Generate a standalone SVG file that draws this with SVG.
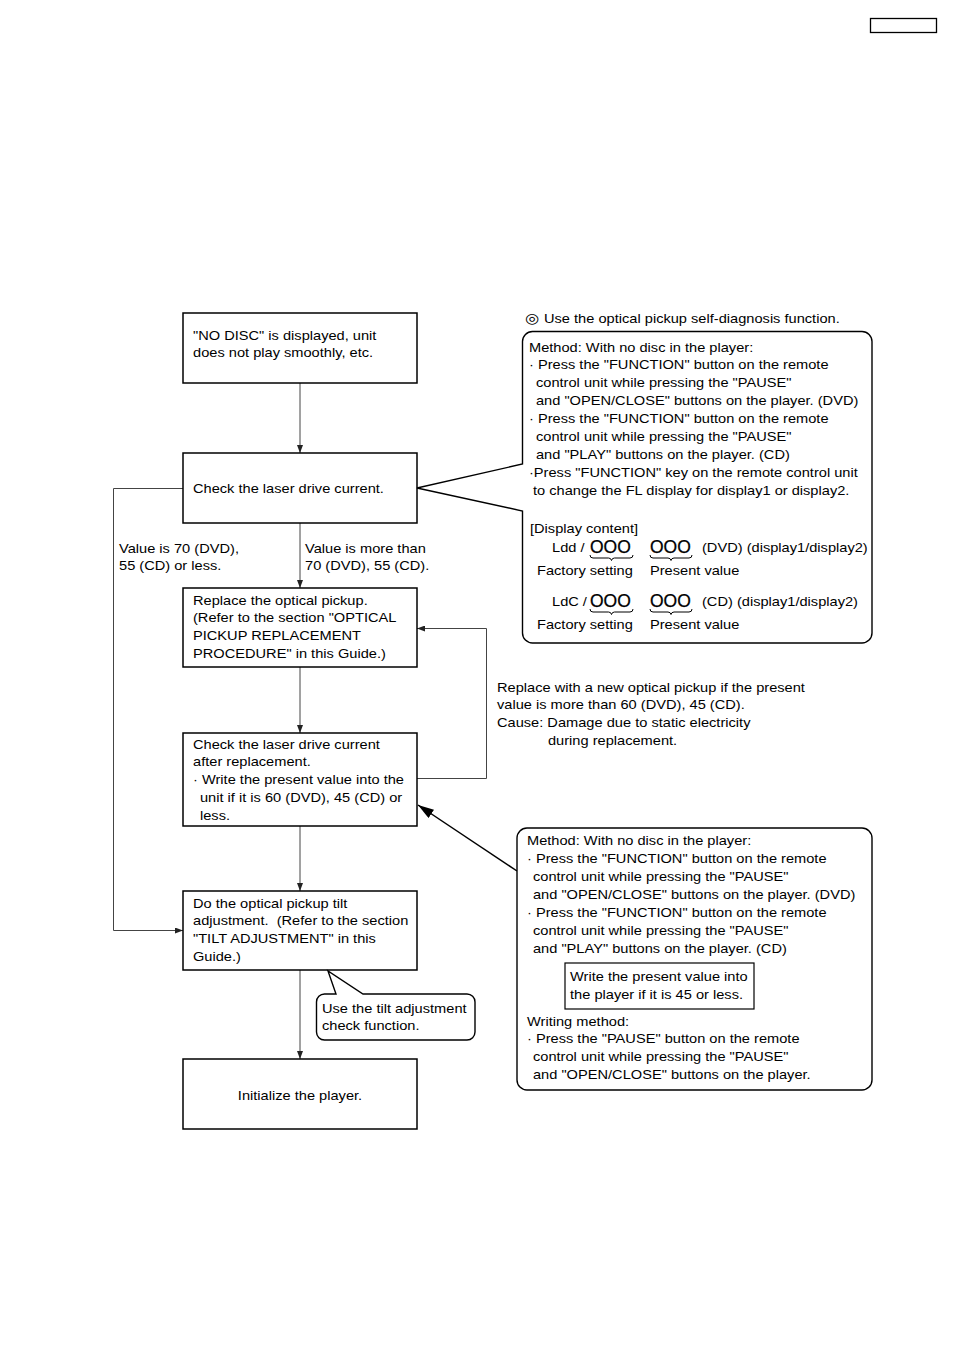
<svg xmlns="http://www.w3.org/2000/svg" width="954" height="1350" viewBox="0 0 954 1350">
<style>
.t{font-family:"Liberation Sans",Arial,Helvetica,sans-serif;font-size:13px;fill:#000}
.box{fill:#fff;stroke:#000;stroke-width:1.5}
.co{fill:#fff;stroke:#000;stroke-width:1.4}
.ln{fill:none;stroke:#444;stroke-width:1}
.o{font-family:"Liberation Sans",Arial,sans-serif;font-size:17.5px;fill:#000;stroke:#000;stroke-width:0.25}
.br{fill:none;stroke:#000;stroke-width:1}
.sym{font-family:"DejaVu Sans",sans-serif;font-size:14.5px;font-weight:bold}
</style>
<defs>
<marker id="a" viewBox="0 0 8 6" refX="8" refY="3" markerWidth="8" markerHeight="6" markerUnits="userSpaceOnUse" orient="auto"><path d="M0,0 L8,3 L0,6 Z" fill="#222"/></marker>
<marker id="b" viewBox="0 0 16 10" refX="16" refY="5" markerWidth="16" markerHeight="10" markerUnits="userSpaceOnUse" orient="auto"><path d="M0,0 L16,5 L0,10 Z" fill="#000"/></marker>
</defs>
<rect width="954" height="1350" fill="#fff"/>
<rect id="pageref" x="870.5" y="18.5" width="66" height="14" fill="none" stroke="#000" stroke-width="1.3"/>

<g id="connectors">
<path class="ln" d="M300,383 V453" marker-end="url(#a)"/>
<path class="ln" d="M300,523 V588" marker-end="url(#a)"/>
<path class="ln" d="M300,667 V733" marker-end="url(#a)"/>
<path class="ln" d="M300,826 V891" marker-end="url(#a)"/>
<path class="ln" d="M300,970 V1059" marker-end="url(#a)"/>
<path class="ln" d="M183,488.5 H113.5 V930.5 H183" marker-end="url(#a)"/>
<path class="ln" d="M417,778.5 H486.5 V628.5 H417" marker-end="url(#a)"/>
<path d="M517,871 L418,805" fill="none" stroke="#000" stroke-width="1.5" marker-end="url(#b)"/>
<text class="t" transform="translate(119,552.5) scale(1.125,1)"><tspan x="0" y="0">Value is 70 (DVD),</tspan><tspan x="0" y="18">55 (CD) or less.</tspan></text>
<text class="t" transform="translate(305,552.5) scale(1.125,1)"><tspan x="0" y="0">Value is more than</tspan><tspan x="0" y="18">70 (DVD), 55 (CD).</tspan></text>
</g>

<g id="n1">
<rect class="box" x="183" y="313" width="234" height="70"/>
<text class="t" transform="translate(193,339.5) scale(1.125,1)"><tspan x="0" y="0">"NO DISC" is displayed, unit</tspan><tspan x="0" y="18">does not play smoothly, etc.</tspan></text>
</g>

<g id="n2">
<rect class="box" x="183" y="453" width="234" height="70"/>
<text class="t" transform="translate(193,492.5) scale(1.125,1)">Check the laser drive current.</text>
</g>

<g id="n3">
<rect class="box" x="183" y="588" width="234" height="79"/>
<text class="t" transform="translate(193,604.5) scale(1.125,1)"><tspan x="0" y="0">Replace the optical pickup.</tspan><tspan x="0" y="18">(Refer to the section "OPTICAL</tspan><tspan x="0" y="36">PICKUP REPLACEMENT</tspan><tspan x="0" y="54">PROCEDURE" in this Guide.)</tspan></text>
</g>

<g id="n4">
<rect class="box" x="183" y="733" width="234" height="93"/>
<text class="t" transform="translate(193,748.5) scale(1.125,1)"><tspan x="0" y="0">Check the laser drive current</tspan><tspan x="0" y="18">after replacement.</tspan><tspan x="0" y="36">· Write the present value into the</tspan><tspan x="6.2" y="54">unit if it is 60 (DVD), 45 (CD) or</tspan><tspan x="6.2" y="72">less.</tspan></text>
</g>

<g id="n5">
<rect class="box" x="183" y="891" width="234" height="79"/>
<text class="t" transform="translate(193,907.5) scale(1.125,1)"><tspan x="0" y="0">Do the optical pickup tilt</tspan><tspan x="0" y="18">adjustment.&#160; (Refer to the section</tspan><tspan x="0" y="36">"TILT ADJUSTMENT" in this</tspan><tspan x="0" y="54">Guide.)</tspan></text>
</g>

<g id="n6">
<rect class="box" x="183" y="1059" width="234" height="70"/>
<text class="t" text-anchor="middle" transform="translate(300,1099.5) scale(1.125,1)">Initialize the player.</text>
</g>

<g id="note-replace">
<text class="t" transform="translate(497,691.5) scale(1.125,1)"><tspan x="0" y="0">Replace with a new optical pickup if the present</tspan><tspan x="0" y="18">value is more than 60 (DVD), 45 (CD).</tspan><tspan x="0" y="36">Cause: Damage due to static electricity</tspan><tspan x="45.3" y="54">during replacement.</tspan></text>
</g>

<g id="callout-tilt">
<path class="co" d="M324.5,994 H336 L328,971 L363,994 H467 A8,8 0 0 1 475,1002 V1032 A8,8 0 0 1 467,1040 H324.5 A8,8 0 0 1 316.5,1032 V1002 A8,8 0 0 1 324.5,994 Z"/>
<text class="t" transform="translate(322,1012.5) scale(1.125,1)"><tspan x="0" y="0">Use the tilt adjustment</tspan><tspan x="0" y="18">check function.</tspan></text>
</g>

<g id="callout-diagnosis">
<text class="t" transform="translate(525,323) scale(1.125,1)"><tspan class="sym" x="0" y="0">◎</tspan><tspan x="16.9" y="0">Use the optical pickup self-diagnosis function.</tspan></text>
<path class="co" d="M532.5,331.5 H862 A10,10 0 0 1 872,341.5 V633 A10,10 0 0 1 862,643 H532.5 A10,10 0 0 1 522.5,633 V511 L417,488 L522.5,464 V341.5 A10,10 0 0 1 532.5,331.5 Z"/>
<text class="t" transform="translate(529,351.5) scale(1.125,1)"><tspan x="0" y="0">Method: With no disc in the player:</tspan><tspan x="0" y="18">· Press the "FUNCTION" button on the remote</tspan><tspan x="6.2" y="36">control unit while pressing the "PAUSE"</tspan><tspan x="6.2" y="54">and "OPEN/CLOSE" buttons on the player. (DVD)</tspan><tspan x="0" y="72">· Press the "FUNCTION" button on the remote</tspan><tspan x="6.2" y="90">control unit while pressing the "PAUSE"</tspan><tspan x="6.2" y="108">and "PLAY" buttons on the player. (CD)</tspan><tspan x="0" y="126">·Press "FUNCTION" key on the remote control unit</tspan><tspan x="3.6" y="144">to change the FL display for display1 or display2.</tspan></text>
<text class="t" transform="translate(530,532.5) scale(1.125,1)">[Display content]</text>
<text class="t" transform="translate(552,551.5) scale(1.125,1)">Ldd /</text>
<text class="o" x="590" y="553">OOO</text>
<path class="br" d="M590,555 q0,3 3,3 H608.5 q2.5,0 3,2.5 q0.5,-2.5 3,-2.5 H630 q3,0 3,-3"/>
<text class="o" x="650" y="553">OOO</text>
<path class="br" d="M650,555 q0,3 3,3 H668 q2.5,0 3,2.5 q0.5,-2.5 3,-2.5 H689 q3,0 3,-3"/>
<text class="t" transform="translate(702,551.5) scale(1.125,1)">(DVD) (display1/display2)</text>
<text class="t" transform="translate(537,574.5) scale(1.125,1)">Factory setting</text>
<text class="t" transform="translate(650,574.5) scale(1.125,1)">Present value</text>
<text class="t" transform="translate(552,605.5) scale(1.125,1)">LdC /</text>
<text class="o" x="590" y="607">OOO</text>
<path class="br" d="M590,609 q0,3 3,3 H608.5 q2.5,0 3,2.5 q0.5,-2.5 3,-2.5 H630 q3,0 3,-3"/>
<text class="o" x="650" y="607">OOO</text>
<path class="br" d="M650,609 q0,3 3,3 H668 q2.5,0 3,2.5 q0.5,-2.5 3,-2.5 H689 q3,0 3,-3"/>
<text class="t" transform="translate(702,605.5) scale(1.125,1)">(CD) (display1/display2)</text>
<text class="t" transform="translate(537,628.5) scale(1.125,1)">Factory setting</text>
<text class="t" transform="translate(650,628.5) scale(1.125,1)">Present value</text>
</g>

<g id="callout-write">
<rect class="co" x="517" y="828" width="355" height="262" rx="10" ry="10"/>
<text class="t" transform="translate(527,845) scale(1.125,1)"><tspan x="0" y="0">Method: With no disc in the player:</tspan><tspan x="0" y="18">· Press the "FUNCTION" button on the remote</tspan><tspan x="5.3" y="36">control unit while pressing the "PAUSE"</tspan><tspan x="5.3" y="54">and "OPEN/CLOSE" buttons on the player. (DVD)</tspan><tspan x="0" y="72">· Press the "FUNCTION" button on the remote</tspan><tspan x="5.3" y="90">control unit while pressing the "PAUSE"</tspan><tspan x="5.3" y="108">and "PLAY" buttons on the player. (CD)</tspan></text>
<rect x="565" y="963" width="189" height="46" fill="#fff" stroke="#000" stroke-width="1.2"/>
<text class="t" transform="translate(570,981) scale(1.125,1)"><tspan x="0" y="0">Write the present value into</tspan><tspan x="0" y="18">the player if it is 45 or less.</tspan></text>
<text class="t" transform="translate(527,1025.5) scale(1.125,1)"><tspan x="0" y="0">Writing method:</tspan><tspan x="0" y="18">· Press the "PAUSE" button on the remote</tspan><tspan x="5.3" y="36">control unit while pressing the "PAUSE"</tspan><tspan x="5.3" y="54">and "OPEN/CLOSE" buttons on the player.</tspan></text>
</g>
</svg>
